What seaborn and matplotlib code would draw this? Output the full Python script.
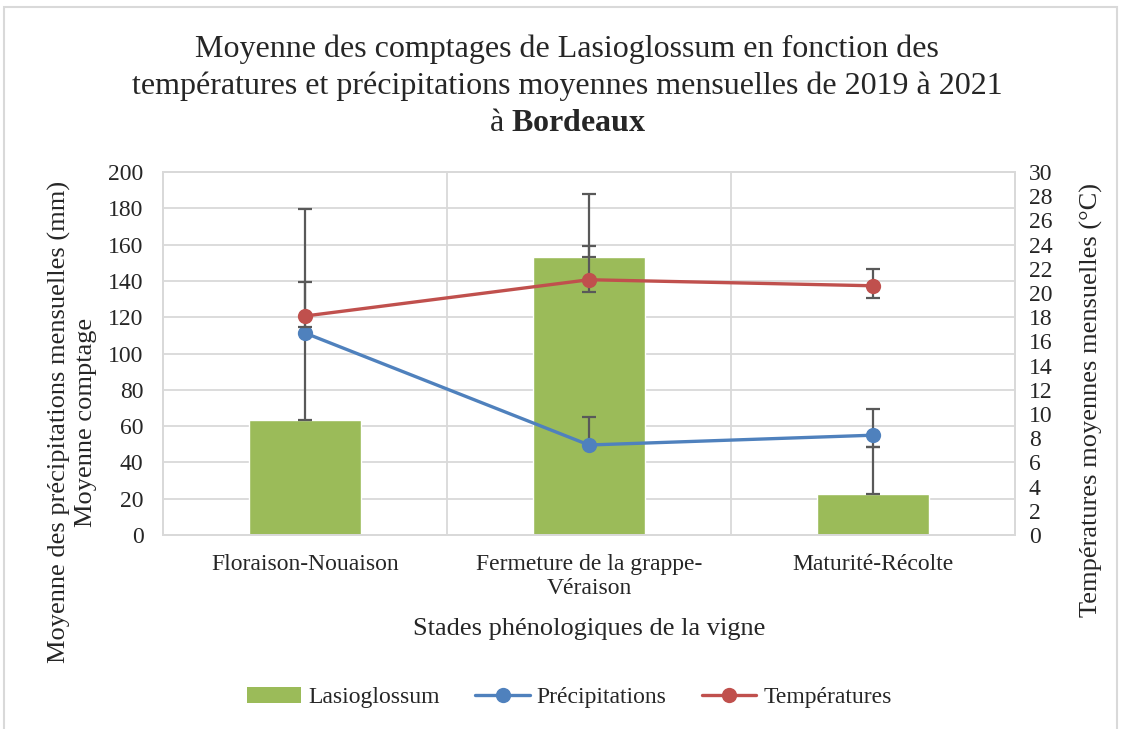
import numpy as np
import matplotlib
matplotlib.use("Agg")
import matplotlib.pyplot as plt
from matplotlib.lines import Line2D
from matplotlib.patches import Patch, Rectangle
import seaborn as sns

# Phenological stages and monthly averages (Bordeaux, 2019-2021)
stades = ["Floraison-Nouaison", "Fermeture de la grappe-\nVéraison", "Maturité-Récolte"]
lasioglossum = [63.5, 153.0, 22.5]
lasio_err_lo = [0.0, 0.0, 0.0]
lasio_err_hi = [116.0, 35.0, 26.0]
precipitations = [111.3, 49.6, 55.0]
precip_err_lo = [0.0, 0.0, 6.5]
precip_err_hi = [0.0, 15.6, 14.4]
temperatures = [18.1, 21.1, 20.6]
temp_err_lo = [0.9, 1.0, 1.0]
temp_err_hi = [2.8, 2.8, 1.4]

GREEN = "#9BBB59"
BLUE = "#4F81BD"
RED = "#C0504D"
ERR = "#595959"
GRID = "#D9D9D9"

sns.set_theme(style="white")
plt.rcParams["font.family"] = ["Liberation Serif", "DejaVu Serif"]
plt.rcParams["mathtext.fontset"] = "custom"
plt.rcParams["mathtext.rm"] = "Liberation Serif"
plt.rcParams["mathtext.bf"] = "Liberation Serif:bold"

fig = plt.figure(figsize=(11.21, 7.29), dpi=100)
ax = fig.add_axes([0.1454, 0.2661, 0.76, 0.4979])

pos = np.arange(len(stades))

sns.barplot(x=stades, y=lasioglossum, color=GREEN, saturation=1, width=0.395,
            ax=ax, zorder=2)
ax.errorbar(pos, lasioglossum, yerr=[lasio_err_lo, lasio_err_hi], fmt="none",
            ecolor=ERR, elinewidth=1.6, capsize=5, capthick=1.6, zorder=3)

ax.errorbar(pos, precipitations, yerr=[precip_err_lo, precip_err_hi], fmt="none",
            ecolor=ERR, elinewidth=1.6, capsize=5, capthick=1.6, zorder=4)
sns.lineplot(x=pos, y=precipitations, ax=ax, color=BLUE, marker="o",
             markersize=11, markeredgewidth=0, linewidth=2.4, zorder=5)

ax.set_xlim(-0.5, 2.5)
ax.set_ylim(0, 200)
ax.set_yticks(np.arange(0, 201, 20))
ax.set_xticks(pos)
ax.set_xticklabels(stades, fontsize=17, linespacing=1.15)
ax.tick_params(axis="y", labelsize=17, length=0, pad=14)
ax.tick_params(axis="x", length=0, pad=14)
ax.grid(False)
for v in np.arange(20, 201, 20):
    ax.axhline(v, color=GRID, linewidth=1.3, zorder=0)
for xb in [0.5, 1.5]:
    ax.axvline(xb, color=GRID, linewidth=1.3, zorder=0)
for s in ax.spines.values():
    s.set_color(GRID)
    s.set_linewidth(1.3)
ax.set_xlabel("Stades phénologiques de la vigne", fontsize=19, labelpad=14)
ax.set_ylabel("")

ax2 = ax.twinx()
ax2.errorbar(pos, temperatures, yerr=[temp_err_lo, temp_err_hi], fmt="none",
             ecolor=ERR, elinewidth=1.6, capsize=5, capthick=1.6, zorder=4)
sns.lineplot(x=pos, y=temperatures, ax=ax2, color=RED, marker="o",
             markersize=11, markeredgewidth=0, linewidth=2.4, zorder=5)
ax2.set_ylim(0, 30)
ax2.set_yticks(np.arange(0, 31, 2))
ax2.tick_params(axis="y", labelsize=17, length=0, pad=10)
ax2.grid(False)
for s in ax2.spines.values():
    s.set_color(GRID)
    s.set_linewidth(1.3)
ax2.set_ylabel("")
ax2.set_xlim(-0.5, 2.5)

# Axis titles, placed relative to the whole chart area
fig.text(0.053, 0.421, "Moyenne des précipitations mensuelles (mm)",
         rotation=90, ha="center", va="center", fontsize=19)
fig.text(0.077, 0.421, "Moyenne comptage",
         rotation=90, ha="center", va="center", fontsize=19)
fig.text(0.974, 0.451, "Températures moyennes mensuelles (°C)",
         rotation=90, ha="center", va="center", fontsize=19)

fig.text(0.506, 0.882,
         "Moyenne des comptages de Lasioglossum en fonction des\n"
         "températures et précipitations moyennes mensuelles de 2019 à 2021\n"
         r"à $\mathbf{Bordeaux}$",
         ha="center", va="center", fontsize=23, linespacing=1.35)

handles = [
    Patch(facecolor=GREEN, edgecolor="none"),
    Line2D([0], [0], color=BLUE, lw=2.4, marker="o", markersize=11, markeredgewidth=0),
    Line2D([0], [0], color=RED, lw=2.4, marker="o", markersize=11, markeredgewidth=0),
]
fig.legend(handles, ["Lasioglossum", "Précipitations", "Températures"],
           loc="center", bbox_to_anchor=(0.508, 0.043), ncol=3, frameon=False,
           fontsize=17, handlelength=2.3, columnspacing=1.5, handletextpad=0.3)

fig.add_artist(Rectangle((0.004, -0.05), 0.992, 1.04, transform=fig.transFigure,
                         fill=False, edgecolor=GRID, linewidth=1.5))

fig.savefig("out.png", dpi=100)
